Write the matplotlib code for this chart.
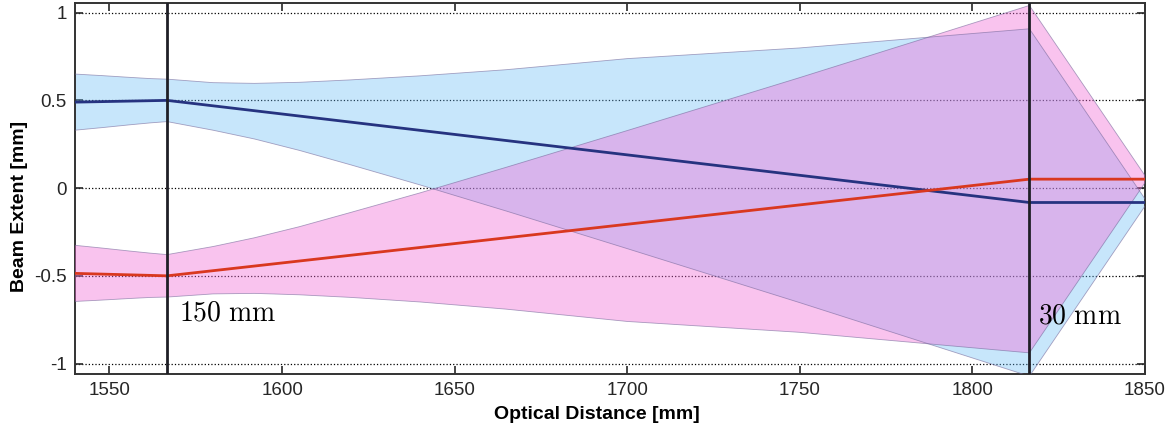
import numpy as np
import matplotlib.pyplot as plt

# beam extent through a two-lens relay (150 mm then 30 mm)
plt.rcParams['font.family'] = ['Liberation Sans', 'DejaVu Sans']
plt.rcParams['mathtext.fontset'] = 'cm'
plt.rcParams['axes.unicode_minus'] = False

lens_pos = [1566.7, 1816.5]
lens_names = ['150 mm', '30 mm']

# chief rays
blue_cx = [1540, 1566.7, 1816.5, 1850]
blue_cy = [0.49, 0.50, -0.082, -0.082]
red_cx = [1540, 1566.7, 1816.5, 1850]
red_cy = [-0.486, -0.50, 0.051, 0.051]

# envelope positions
env_z = [1540, 1548, 1556, 1562, 1566.7, 1580, 1592, 1605, 1620,
         1640, 1665, 1700, 1750, 1816.5, 1850]
blue_upper = [0.650, 0.641, 0.631, 0.624, 0.621, 0.601, 0.597, 0.603, 0.617,
              0.640, 0.675, 0.738, 0.799, 0.908, -0.062]
blue_lower = [0.330, 0.345, 0.361, 0.372, 0.379, 0.330, 0.280, 0.215, 0.132,
              0.018, -0.131, -0.345, -0.653, -1.072, -0.102]
red_upper = [-0.326, -0.342, -0.359, -0.371, -0.379, -0.333, -0.283, -0.220, -0.138,
             -0.027, 0.119, 0.328, 0.630, 1.041, 0.071]
red_lower = [-0.646, -0.638, -0.629, -0.623, -0.621, -0.603, -0.600, -0.608, -0.623,
             -0.649, -0.690, -0.760, -0.822, -0.939, 0.031]

yticks = [-1, -0.5, 0, 0.5, 1]
ytick_labels = ['-1', '-0.5', '0', '0.5', '1']
xticks = [1550, 1600, 1650, 1700, 1750, 1800, 1850]

fig = plt.figure(figsize=(11.75, 4.29), dpi=100)
ax = fig.add_axes([0.0638, 0.128, 0.9107, 0.865])

edge_col = (0.45, 0.4, 0.6)
ax.fill_between(env_z, blue_lower, blue_upper, facecolor=(0.40, 0.73, 0.96),
                alpha=0.36, edgecolor='none', zorder=2)
ax.fill_between(env_z, red_lower, red_upper, facecolor=(0.95, 0.42, 0.84),
                alpha=0.40, edgecolor='none', zorder=3)
for edge in [blue_upper, blue_lower, red_upper, red_lower]:
    ax.plot(env_z, edge, color=edge_col, lw=0.6, alpha=0.6, zorder=4)

ax.plot(blue_cx, blue_cy, color=(0.15, 0.2, 0.5), lw=2, zorder=5)
ax.plot(red_cx, red_cy, color=(0.85, 0.22, 0.12), lw=2, zorder=5)

for xp in lens_pos:
    ax.axvline(xp, color=(0.12, 0.12, 0.15), lw=2, zorder=6)
ax.text(lens_pos[0] + 3.5, -0.715, r'$\mathrm{150\ mm}$', fontsize=20,
        va='center', ha='left', zorder=7)
ax.text(lens_pos[1] + 2.5, -0.73, r'$\mathrm{30\ mm}$', fontsize=20,
        va='center', ha='left', zorder=7)

ax.set_xlim(1540, 1850)
ax.set_ylim(-1.06, 1.055)
ax.set_xticks(xticks)
ax.set_yticks(yticks)
ax.set_yticklabels(ytick_labels)
ax.yaxis.grid(True, linestyle=':', color='black', lw=0.9, zorder=1)
ax.set_axisbelow(True)
ax.tick_params(direction='in', top=True, right=True, length=6, width=1.2,
               labelsize=13.5, pad=6, colors=(0.15, 0.15, 0.15))
for s in ax.spines.values():
    s.set_linewidth(1.4)
    s.set_color((0.2, 0.2, 0.2))

ax.set_xlabel('Optical Distance [mm]', fontsize=14, fontweight='bold', labelpad=0)
ax.xaxis.set_label_coords(0.488, -0.085)
ax.set_ylabel('Beam Extent [mm]', fontsize=14, fontweight='bold')
ax.yaxis.set_label_coords(-0.044, 0.453)

fig.savefig('out.png', dpi=100)
